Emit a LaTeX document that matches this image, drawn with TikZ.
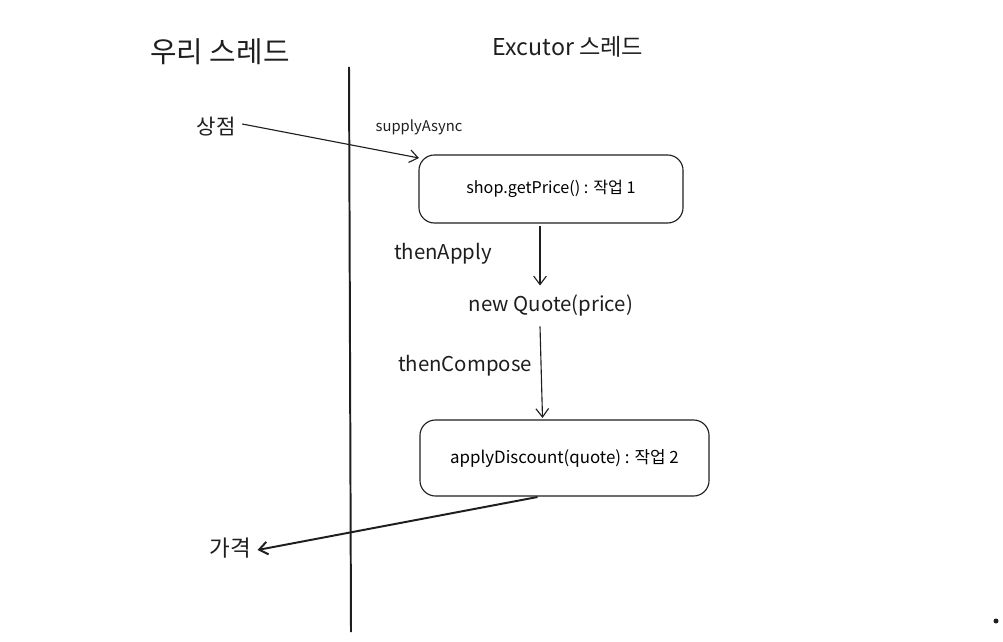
\documentclass[tikz,border=0pt]{standalone}
\usepackage{fontspec}
\setmainfont{Noto Sans CJK KR}
\usepackage{tikz}
\usetikzlibrary{arrows.meta,positioning}
\definecolor{ink}{HTML}{1E1E1E}

\begin{document}
\begin{tikzpicture}[x=0.025cm,y=-0.025cm,outer sep=0pt,inner sep=2pt]
      \tikzset{task/.style={align=center,shape=rectangle,rounded corners=11pt,draw=ink,line width=0.8pt,font=\fontsize{11.5}{13}\selectfont}}
      \tikzset{lanetitle/.style={text=ink,font=\fontsize{20.5}{24}\selectfont}}
      \tikzset{step label/.style={text=ink,font=\fontsize{14.5}{17}\selectfont}}
      \tikzset{flow/.style={draw=ink,line width=0.8pt,-{Straight Barb[length=6pt,width=9pt]}}}

      \useasboundingbox (0,0) rectangle (1003,642);

      % lanes
      \node [lanetitle] (ourlane) at (220,52) {우리 스레드};
      \node [lanetitle,font=\fontsize{16.5}{19}\selectfont] (execlane) at (568,47) {Excutor 스레드};
      \coordinate (lanetop) at (349,67);
      \coordinate (lanebot) at (351,632);
      \draw [ink,line width=1.4pt] (lanetop) -- (lanebot);

      % tasks
      \node [task,minimum width=6.6cm,minimum height=1.7cm] (getprice) at (551,189) {shop.getPrice() : 작업 1};
      \node [step label] (quote) at (551,305) {new Quote(price)};
      \node [task,minimum width=7.225cm,minimum height=1.9cm,font=\fontsize{12}{14}\selectfont] (discount) at (564.5,458) {applyDiscount(quote) : 작업 2};

      \node [step label,font=\fontsize{15}{18}\selectfont] (shop) at (216,127) {상점};
      \node [step label,font=\fontsize{16}{18}\selectfont] (price) at (230,548) {가격};

      \node [step label,font=\fontsize{10.5}{12}\selectfont] (supply) at (419,127) {supplyAsync};
      \node [step label] (apply) at (443,254) {thenApply};
      \node [step label] (compose) at (465,366) {thenCompose};

      \draw [flow] ([shift={(4,-3)}]shop.east) -- ([shift={(0,3)}]getprice.north west);
      \draw [flow] ([shift={(-11,3)}]getprice.south) -- ([shift={(-11,-6)}]quote.north);
      \draw [flow] ([shift={(-11,8)}]quote.south) -- ([shift={(-22,-2)}]discount.north);
      \draw [flow,line width=1.4pt] ([shift={(-27,1)}]discount.south) -- ([shift={(4,2)}]price.east);

      \node [circle,fill=ink,inner sep=0pt,minimum size=0.125cm] (dot) at (996,621) {};
    \end{tikzpicture}
\end{document}
